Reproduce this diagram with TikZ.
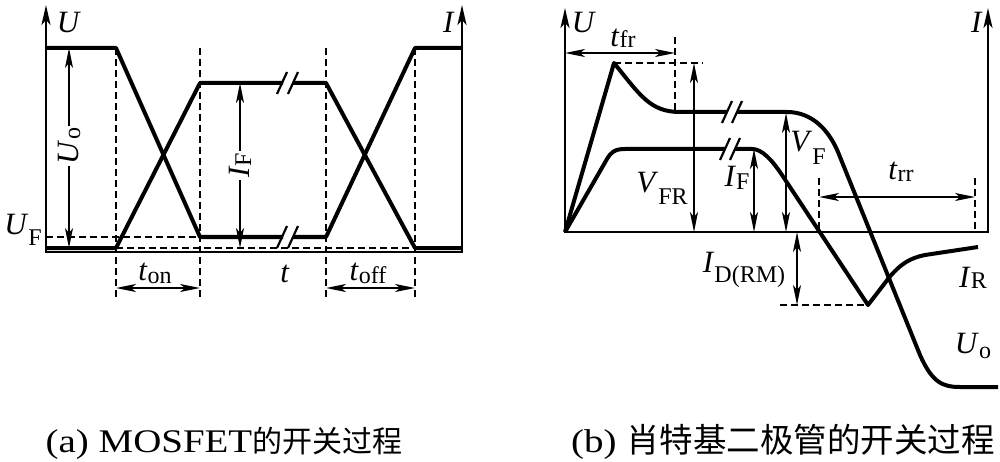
\documentclass[tikz,border=0pt]{standalone}
\usepackage{fontspec}
\setmainfont{Liberation Serif}
\newfontfamily\cjk{Noto Sans CJK SC}
\newfontfamily\capfont{Liberation Serif}[FakeStretch=1.18]
\usetikzlibrary{arrows.meta}
\newcommand\lbl[3][9pt]{\textit{#2}\raisebox{-#1}{\fontsize{24}{26}\selectfont #3}}
\tikzset{
  axtip/.tip={Stealth[length=20pt,width=9pt,inset=5pt]},
  dmtip/.tip={Stealth[length=20pt,width=8pt,inset=5pt]},
  axisln/.style={line width=2.3pt},
  curve/.style={line width=4pt,line join=round},
  brk/.style={line width=2.2pt},
  dashln/.style={line width=1.4pt,dash pattern=on 7pt off 4pt},
  dim/.style={line width=1.6pt,dmtip-dmtip},
  lab/.style={font=\fontsize{31}{34}\selectfont,inner sep=0pt},
  captext/.style={font=\capfont\fontsize{33}{36}\selectfont,inner sep=0pt,anchor=base},
}
\begin{document}
\begin{tikzpicture}[x=1pt,y=-1pt]
\useasboundingbox (0,0) rectangle (1000,462);
% ================= (a) =================
\draw[axisln,axtip-axtip] (46,5) -- (46,252) -- (462,252) -- (462,5);
\draw[dashln] (46,237) -- (200,237);
\draw[dashln] (116,248) -- (415,248);
\foreach \x in {116,200,326,415} \draw[dashln] (\x,48) -- (\x,300);
\draw[curve] (46,48) -- (116,48) -- (200,237) -- (283,237) (293,237) -- (326,237) -- (415,48) -- (462,48);
\draw[curve] (46,248) -- (116,248) -- (200,83) -- (283,83) (293,83) -- (326,83) -- (415,248) -- (462,248);
\foreach \y in {83,237} {
  \draw[brk] (277,\y+11) -- (287,\y-11);
  \draw[brk] (288,\y+11) -- (298,\y-11);
}
\coordinate (uoT) at (69,48); \coordinate (uoB) at (69,248);
\coordinate (ifT) at (240,83); \coordinate (ifB) at (240,248);
\draw[dim] (uoT) -- node[lab,fill=white,rotate=90,inner sep=2pt,pos=0.49] (Uo) {\lbl[2pt]{U}{o}} (uoB);
\draw[dim] (ifT) -- node[lab,fill=white,rotate=90,inner sep=2pt,pos=0.5] (IFa) {\lbl[2pt]{I}{F}} (ifB);
\coordinate (tonL) at (116,288); \coordinate (tonR) at (200,288);
\coordinate (toffL) at (326,288); \coordinate (toffR) at (415,288);
\draw[dim] (tonL) -- (tonR);
\draw[dim] (toffL) -- (toffR);
\node[lab,anchor=base] (Ua) at (69,33) {\textit{U}};
\node[lab,anchor=base] (Ia) at (449,33) {\textit{I}};
\node[lab,anchor=base] (UF) at (23,235) {\lbl[10pt]{U}{F}};
\node[lab,anchor=base] (ton) at (155,280) {\lbl[3pt]{t}{on}};
\node[lab,anchor=base] (t) at (285,282) {\textit{t}};
\node[lab,anchor=base] (toff) at (368,280) {\lbl[3pt]{t}{off}};
% ================= (b) =================
\draw[axisln,axtip-axtip] (565,8) -- (565,232) -- (988,232) -- (988,8);
\draw[dashln] (675,37) -- (675,112);
\draw[dashln] (614,63) -- (703,63);
\draw[dashln] (780,305) -- (868,305);
\draw[dashln] (819,178) -- (819,232);
\draw[dashln] (975,178) -- (975,232);
% U curve
\draw[curve] (565,232) -- (614,63) .. controls (640,95) and (650,112) .. (680,112) -- (727,112)
  (737,112) -- (787,112) .. controls (812,112) and (830,130) .. (840,157) -- (920,355)
  .. controls (932,382) and (942,387) .. (960,387) -- (998,387);
% I curve
\draw[curve] (565,232) -- (607,159) .. controls (611,152) and (615,149) .. (625,149) -- (725,149)
  (735,149) -- (752,149) .. controls (762,149) and (772,160) .. (782,175) -- (868,305)
  -- (888,279) .. controls (900,264) and (910,258) .. (925,255) -- (978,247);
\draw[brk] (722,123) -- (732,101);
\draw[brk] (732,123) -- (742,101);
\draw[brk] (720,160) -- (730,138);
\draw[brk] (730,160) -- (740,138);
\coordinate (tfrL) at (565,53); \coordinate (tfrR) at (675,53);
\coordinate (vfrT) at (694,63); \coordinate (vfrB) at (694,232);
\coordinate (ifbT) at (754,149); \coordinate (ifbB) at (754,232);
\coordinate (vfT) at (786,113); \coordinate (vfB) at (786,232);
\coordinate (idT) at (797,232); \coordinate (idB) at (797,305);
\coordinate (trrL) at (819,197); \coordinate (trrR) at (975,197);
\draw[dim] (tfrL) -- (tfrR);
\draw[dim] (vfrT) -- (vfrB);
\draw[dim] (ifbT) -- (ifbB);
\draw[dim] (vfT) -- (vfB);
\draw[dim] (idT) -- (idB);
\draw[dim] (trrL) -- (trrR);
\node[lab,anchor=base] (Ub) at (584,33) {\textit{U}};
\node[lab,anchor=base] (Ib) at (977,33) {\textit{I}};
\node[lab,anchor=base] (tfr) at (623,47) {\lbl[1pt]{t}{fr}};
\node[lab,anchor=base] (VFR) at (662,193) {\lbl[12pt]{V}{FR}};
\node[lab,anchor=base] (IFb) at (737,187) {\lbl[3pt]{I}{F}};
\node[lab,anchor=base] (VF) at (808,152) {\lbl[13pt]{V}{F}};
\node[lab,anchor=base] (IDRM) at (744,272) {\lbl[10pt]{I}{D(RM)}};
\node[lab,anchor=base] (trr) at (901,180) {\lbl[2pt]{t}{rr}};
\node[lab,anchor=base] (IR) at (973,287) {\lbl[1pt]{I}{R}};
\node[lab,anchor=base] (Uob) at (973,353) {\lbl[5pt]{U}{o}};
% captions
\node[captext] (capa) at (224,452) {(a) MOSFET{\cjk\fontsize{30}{36}\selectfont 的开关过程}};
\node[captext] (capb) at (783,452) {(b) {\cjk\fontsize{33.5}{36}\selectfont 肖特基二极管的开关过程}};
\end{tikzpicture}
\end{document}
